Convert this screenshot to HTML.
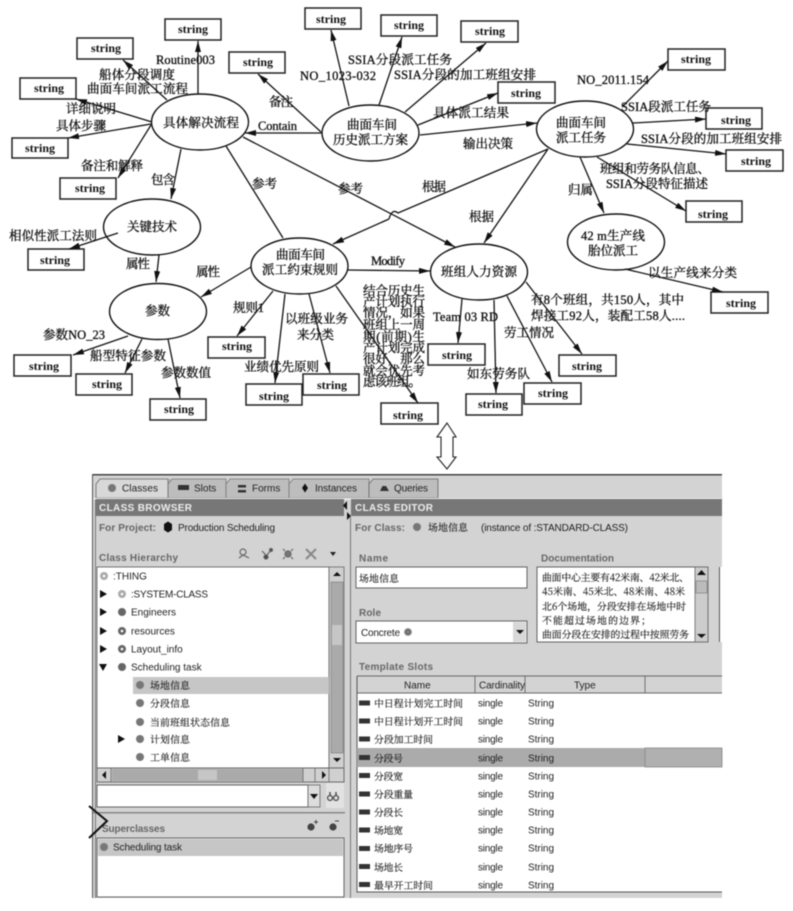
<!DOCTYPE html>
<html lang="zh">
<head>
<meta charset="utf-8">
<title>Diagram</title>
<style>
html,body{margin:0;padding:0;background:#fff;width:793px;height:911px;overflow:hidden}
svg{display:block;filter:blur(.4px)}
.b{fill:#fff;stroke:#222;stroke-width:1.5}
.e{fill:#fff;stroke:#111;stroke-width:1.4}
.l{stroke:#111;stroke-width:1.3;fill:none}
.p{stroke:#111;stroke-width:1.3;fill:none}
.d text{font-family:"Liberation Serif","Noto Serif CJK SC",serif;font-size:12.5px;fill:#111;stroke:#111;stroke-width:.32}
.d text.s{font-weight:700;font-size:12px;stroke:none}
.g text{font-family:"Liberation Sans","Noto Serif CJK SC",sans-serif;font-size:10px;fill:#222}
.g text.h{font-weight:700;fill:#eee;font-size:10px}
.g text.t{font-weight:700;fill:#666;font-size:10px}
.g text.c{font-family:"Noto Serif CJK SC","Liberation Serif",serif;font-size:9.9px;fill:#222;stroke:#222;stroke-width:.15}
</style>
</head>
<body>
<svg width="793" height="911" viewBox="0 0 793 911" xmlns="http://www.w3.org/2000/svg">
<defs>
<marker id="a" markerUnits="userSpaceOnUse" markerWidth="12" markerHeight="7" refX="11" refY="3" orient="auto"><path d="M0 0L11 3L0 6Z" fill="#111"/></marker>
</defs>
<rect width="793" height="911" fill="#fff"/>

<g class="d">
<!-- ellipses -->
<ellipse class="e" cx="200" cy="122" rx="48.5" ry="28"/>
<ellipse class="e" cx="370.5" cy="133" rx="48.5" ry="28"/>
<ellipse class="e" cx="585" cy="129" rx="48.5" ry="28"/>
<ellipse class="e" cx="152" cy="227" rx="48.5" ry="28"/>
<ellipse class="e" cx="158" cy="311.5" rx="48.5" ry="28"/>
<ellipse class="e" cx="299.5" cy="266" rx="48.5" ry="28"/>
<ellipse class="e" cx="479" cy="272" rx="48.5" ry="28"/>
<ellipse class="e" cx="616" cy="242" rx="48.5" ry="28"/>

<!-- boxes -->
<rect class="b" x="165" y="19" width="56" height="21"/><text class="s" x="178" y="33">string</text>
<rect class="b" x="77" y="38" width="56" height="21"/><text class="s" x="91" y="52">string</text>
<rect class="b" x="20" y="78" width="56" height="21"/><text class="s" x="34" y="92">string</text>
<rect class="b" x="12" y="138" width="56" height="20"/><text class="s" x="25" y="152">string</text>
<rect class="b" x="60" y="178" width="56" height="21"/><text class="s" x="75" y="192">string</text>
<rect class="b" x="229" y="52" width="56" height="21"/><text class="s" x="243" y="66">string</text>
<rect class="b" x="305" y="8" width="56" height="21"/><text class="s" x="316" y="23">string</text>
<rect class="b" x="381" y="15" width="56" height="21"/><text class="s" x="394" y="29">string</text>
<rect class="b" x="461" y="21" width="57" height="21"/><text class="s" x="475" y="35">string</text>
<rect class="b" x="498" y="82" width="57" height="21"/><text class="s" x="511" y="97">string</text>
<rect class="b" x="668" y="49" width="57" height="21"/><text class="s" x="681" y="63">string</text>
<rect class="b" x="706" y="108" width="56" height="21"/><text class="s" x="721" y="124">string</text>
<rect class="b" x="726" y="150" width="57" height="21"/><text class="s" x="741" y="165">string</text>
<rect class="b" x="686" y="201" width="56" height="21"/><text class="s" x="698" y="218">string</text>
<rect class="b" x="28" y="249" width="56" height="21"/><text class="s" x="40" y="264">string</text>
<rect class="b" x="14" y="355" width="57" height="21"/><text class="s" x="29" y="370">string</text>
<rect class="b" x="76" y="374" width="56" height="21"/><text class="s" x="92" y="388">string</text>
<rect class="b" x="150" y="399" width="56" height="21"/><text class="s" x="164" y="413">string</text>
<rect class="b" x="208" y="337" width="57" height="21"/><text class="s" x="222" y="350">string</text>
<rect class="b" x="246" y="384" width="56" height="21"/><text class="s" x="259" y="400">string</text>
<rect class="b" x="303" y="374" width="56" height="21"/><text class="s" x="317" y="389">string</text>
<rect class="b" x="381" y="403" width="57" height="21"/><text class="s" x="393" y="419">string</text>
<rect class="b" x="428" y="344" width="57" height="21"/><text class="s" x="442" y="359">string</text>
<rect class="b" x="466" y="394" width="56" height="21"/><text class="s" x="478" y="408">string</text>
<rect class="b" x="524" y="383" width="57" height="21"/><text class="s" x="538" y="397">string</text>
<rect class="b" x="559" y="355" width="57" height="21"/><text class="s" x="572" y="370">string</text>
<rect class="b" x="711" y="292" width="57" height="21"/><text class="s" x="726" y="307">string</text>

<!-- connectors -->
<path class="l" marker-end="url(#a)" d="M198 94L198 41"/>
<path class="l" marker-end="url(#a)" d="M167 100L123 60"/>
<path class="l" marker-end="url(#a)" d="M152 122L76 99"/>
<path class="l" marker-end="url(#a)" d="M151 124L68 138"/>
<path class="l" marker-end="url(#a)" d="M151 125L118 178"/>
<path class="l" marker-end="url(#a)" d="M181 149L171 199"/>
<path class="p" d="M226 146L283 238"/>
<path class="l" marker-end="url(#a)" d="M243 137L455 247"/>
<path class="l" marker-end="url(#a)" d="M322 133L245 133"/>
<path class="l" marker-end="url(#a)" d="M321 132L258 74"/>
<path class="l" marker-end="url(#a)" d="M349 106L331 30"/>
<path class="l" marker-end="url(#a)" d="M379 105L402 37"/>
<path class="l" marker-end="url(#a)" d="M405 112L486 43"/>
<path class="l" marker-end="url(#a)" d="M418 125L498 93"/>
<path class="l" marker-end="url(#a)" d="M420 135L537 123"/>
<path class="l" marker-end="url(#a)" d="M622 107L668 61"/>
<path class="l" marker-end="url(#a)" d="M633 123L706 119"/>
<path class="l" marker-end="url(#a)" d="M627 144L726 154"/>
<path class="l" marker-end="url(#a)" d="M597 157L686 211"/>
<path class="l" marker-end="url(#a)" d="M580 157L604 213"/>
<path class="p" d="M548 149L398 213Q392 208 389 219"/>
<path class="l" marker-end="url(#a)" d="M389 219L333 244"/>
<path class="l" marker-end="url(#a)" d="M548 149L484 243"/>
<path class="l" marker-end="url(#a)" d="M118 233L69 249"/>
<path class="l" marker-end="url(#a)" d="M159 255L156 282"/>
<path class="l" marker-end="url(#a)" d="M128 336L73 355"/>
<path class="l" marker-end="url(#a)" d="M142 339L125 373"/>
<path class="l" marker-end="url(#a)" d="M168 339L180 398"/>
<path class="l" marker-end="url(#a)" d="M251 267L201 297"/>
<path class="l" marker-end="url(#a)" d="M273 291L237 336"/>
<path class="l" marker-end="url(#a)" d="M285 294L275 383"/>
<path class="l" marker-end="url(#a)" d="M309 294L330 373"/>
<path class="l" marker-end="url(#a)" d="M336 286L418 403"/>
<path class="l" marker-end="url(#a)" d="M348 270L430 271"/>
<path class="l" marker-end="url(#a)" d="M462 299L458 343"/>
<path class="l" marker-end="url(#a)" d="M494 300L496 393"/>
<path class="l" marker-end="url(#a)" d="M507 296L552 382"/>
<path class="l" marker-end="url(#a)" d="M526 282L582 354"/>
<path class="l" marker-end="url(#a)" d="M625 269L723 292"/>

<!-- ellipse labels -->
<text x="163" y="127" textLength="76">具体解决流程</text>
<text x="347" y="129" textLength="50">曲面车间</text>
<text x="333" y="144" textLength="75">历史派工方案</text>
<text x="556" y="127" textLength="50">曲面车间</text>
<text x="556" y="142" textLength="50">派工任务</text>
<text x="127" y="231" textLength="50">关键技术</text>
<text x="145" y="315" textLength="25">参数</text>
<text x="276" y="259" textLength="49">曲面车间</text>
<text x="262" y="274" textLength="76">派工约束规则</text>
<text x="441" y="276" textLength="76">班组人力资源</text>
<text x="581" y="240" textLength="64">42 m生产线</text>
<text x="588" y="255" textLength="50">胎位派工</text>

<!-- connector labels -->
<text x="156" y="64" textLength="59">Routine003</text>
<text x="99" y="79" textLength="76">船体分段调度</text>
<text x="87" y="93" textLength="101">曲面车间派工流程</text>
<text x="66" y="113" textLength="50">详细说明</text>
<text x="56" y="130" textLength="50">具体步骤</text>
<text x="81" y="170" textLength="62">备注和解释</text>
<text x="151" y="184" textLength="24">包含</text>
<text x="252" y="188" textLength="25">参考</text>
<text x="338" y="193" textLength="25">参考</text>
<text x="269" y="106" textLength="24">备注</text>
<text x="258" y="130" textLength="39">Contain</text>
<text x="300" y="80" textLength="76">NO_1023-032</text>
<text x="348" y="64" textLength="104">SSIA分段派工任务</text>
<text x="394" y="79" textLength="142">SSIA分段的加工班组安排</text>
<text x="433" y="117" textLength="76">具体派工结果</text>
<text x="463" y="148" textLength="50">输出决策</text>
<text x="577" y="84" textLength="72">NO_2011.154</text>
<text x="621" y="111" textLength="90">SSIA段派工任务</text>
<text x="641" y="143" textLength="141">SSIA分段的加工班组安排</text>
<text x="600" y="173" textLength="110">班组和劳务队信息、</text>
<text x="606" y="188" textLength="102">SSIA分段特征描述</text>
<text x="568" y="194" textLength="25">归属</text>
<text x="422" y="191" textLength="24">根据</text>
<text x="469" y="221" textLength="25">根据</text>
<text x="9" y="240" textLength="88">相似性派工法则</text>
<text x="126" y="268" textLength="24">属性</text>
<text x="196" y="276" textLength="24">属性</text>
<text x="43" y="339" textLength="62">参数NO_23</text>
<text x="90" y="360" textLength="76">船型特征参数</text>
<text x="161" y="377" textLength="50">参数数值</text>
<text x="233" y="312" textLength="31">规则1</text>
<text x="285" y="323" textLength="63">以班级业务</text>
<text x="297" y="339" textLength="37">来分类</text>
<text x="244" y="371" textLength="75">业绩优先原则</text>
<text x="371" y="265" textLength="34">Modify</text>
<text x="363" y="295" textLength="62">结合历史生</text>
<text x="363" y="306" textLength="62">产计划执行</text>
<text x="363" y="317" textLength="62">情况，如果</text>
<text x="363" y="329" textLength="62">班组上一周</text>
<text x="363" y="341" textLength="62">期(前期)生</text>
<text x="363" y="352" textLength="62">产计划完成</text>
<text x="363" y="363" textLength="62">很好，那么</text>
<text x="363" y="375" textLength="62">就会优先考</text>
<text x="363" y="386" textLength="58">虑该班组。</text>
<text x="433" y="321" textLength="65">Team 03 RD</text>
<text x="467" y="378" textLength="63">如东劳务队</text>
<text x="504" y="337" textLength="50">劳工情况</text>
<text x="531" y="304" textLength="153">有8个班组，共150人，其中</text>
<text x="531" y="320" textLength="154">焊接工92人，装配工58人....</text>
<text x="648" y="277" textLength="89">以生产线来分类</text>
</g>

<!-- double arrow -->
<path d="M447 423L456 437H453V457H456L447 469L437 457H441V437H437Z" fill="#fff" stroke="#222" stroke-width="1.1"/>

<!-- GUI -->
<g class="g">
<rect x="92" y="474" width="630" height="424" fill="#d3d3d3"/>
<rect x="92" y="474" width="630" height="1.5" fill="#444"/>
<rect x="92" y="474" width="1" height="424" fill="#555"/>
<rect x="95" y="498" width="1" height="400" fill="#777"/>

<!-- tabs -->
<path d="M167 498V479H172L168 484V498Z" fill="#bbb"/>
<path d="M168 498V484L172 479H226V498Z" fill="#bdbdbd" stroke="#777" stroke-width=".8"/>
<path d="M226 498V484L230 479H289V498Z" fill="#bdbdbd" stroke="#777" stroke-width=".8"/>
<path d="M289 498V484L293 479H369V498Z" fill="#bdbdbd" stroke="#777" stroke-width=".8"/>
<path d="M369 498V484L373 479H438V498Z" fill="#bdbdbd" stroke="#666" stroke-width=".8"/>
<path d="M96 498V484L100 479H168V498Z" fill="#d8d8d8" stroke="#666" stroke-width=".8"/>
<circle cx="112" cy="488" r="4" fill="#777"/><text x="122" y="491.5" textLength="36">Classes</text>
<rect x="178" y="485" width="11" height="5" fill="#333"/><text x="194" y="491.5">Slots</text>
<rect x="238" y="485" width="8" height="2.5" fill="#333"/><rect x="238" y="490" width="8" height="2.5" fill="#333"/><text x="252" y="491.5">Forms</text>
<path d="M305 483.5L308 488L305 492.5L302 488Z" fill="#111"/><text x="315" y="491.5" textLength="42">Instances</text>
<path d="M380 491L382.5 486H386L389 491Z" fill="#333"/><text x="394" y="491.5" textLength="34">Queries</text>

<!-- browser header -->
<rect x="93" y="498" width="630" height="1.5" fill="#eee"/>
<rect x="96" y="499" width="248" height="17" fill="#777"/>
<rect x="351" y="499" width="371" height="17" fill="#777"/>
<text class="h" x="99" y="511" textLength="93">CLASS BROWSER</text>
<text class="h" x="355" y="511" textLength="78">CLASS EDITOR</text>
<path d="M347 501V510L343 505.5Z M347 512V520L351 516Z" fill="#111"/>
<rect x="350" y="516" width="1" height="382" fill="#777"/>

<text class="t" x="99" y="531" textLength="57">For Project:</text>
<path d="M168 521.5L172 524V530L168 532.5L164 530V524Z" fill="#111"/>
<text x="178" y="531" textLength="97">Production Scheduling</text>
<text class="t" x="99" y="561" textLength="79">Class Hierarchy</text>

<!-- toolbar icons -->
<g fill="none" stroke="#666" stroke-width="1.2">
<circle cx="243" cy="552" r="3"/><path d="M239 558L243 555L249 558"/>
<path d="M262 551L266 555M271 550L267 555"/><circle cx="266" cy="557" r="2" fill="#444"/><circle cx="271" cy="550" r="1.5" fill="#444"/>
<circle cx="288" cy="554" r="3" fill="#777"/><path d="M283 549L285 551M293 549L291 551M283 559L285 557M293 559L291 557"/>
<path d="M306 549L316 559M316 549L306 559" stroke-width="2" stroke="#888"/>
</g>
<path d="M330 552H336L333 556Z" fill="#222"/>

<!-- class list -->
<rect x="97" y="567" width="232" height="201" fill="#fff" stroke="#555" stroke-width=".8"/>
<rect x="329" y="567" width="15" height="201" fill="#d0d0d0" stroke="#666" stroke-width=".8"/>
<rect x="331" y="582" width="12" height="171" fill="#aaa" stroke="#777" stroke-width=".6"/>
<rect x="332" y="625" width="10" height="20" fill="#c6c6c6"/>
<path d="M333 576H341L337 572Z" fill="#111"/>
<path d="M333 758H341L337 762Z" fill="#111"/>

<rect x="133" y="677" width="196" height="17" fill="#c6c6c6"/>

<circle cx="104" cy="576" r="4" fill="#aaa"/><circle cx="104" cy="576" r="1.3" fill="#fff"/><text x="113" y="579.5">:THING</text>
<path d="M100 590L107 594L100 598Z" fill="#111"/><circle cx="122" cy="594" r="4" fill="#aaa"/><circle cx="122" cy="594" r="1.3" fill="#fff"/><text x="131" y="597.5" textLength="77">:SYSTEM-CLASS</text>
<path d="M100 608L107 612L100 616Z" fill="#111"/><circle cx="122" cy="612" r="4" fill="#666"/><text x="131" y="615.5">Engineers</text>
<path d="M100 627L107 631L100 635Z" fill="#111"/><circle cx="122" cy="631" r="4" fill="#666"/><circle cx="122" cy="631" r="1.3" fill="#fff"/><text x="131" y="634.5">resources</text>
<path d="M100 645L107 649L100 653Z" fill="#111"/><circle cx="122" cy="649" r="4" fill="#666"/><circle cx="122" cy="649" r="1.3" fill="#fff"/><text x="131" y="652.5">Layout_info</text>
<path d="M99 664H107L103 671Z" fill="#111"/><circle cx="122" cy="667" r="4" fill="#666"/><text x="131" y="670.5">Scheduling task</text>
<circle cx="140" cy="685" r="4" fill="#777"/><text class="c" x="150" y="689" textLength="40">场地信息</text>
<circle cx="140" cy="703" r="4" fill="#777"/><text class="c" x="150" y="707" textLength="40">分段信息</text>
<circle cx="140" cy="722" r="4" fill="#777"/><text class="c" x="150" y="726" textLength="80">当前班组状态信息</text>
<path d="M118 735L125 739L118 743Z" fill="#111"/><circle cx="140" cy="739" r="4" fill="#777"/><text class="c" x="150" y="743" textLength="40">计划信息</text>
<circle cx="140" cy="757" r="4" fill="#777"/><text class="c" x="150" y="761" textLength="40">工单信息</text>

<!-- h scrollbar -->
<rect x="97" y="768" width="247" height="14" fill="#d0d0d0" stroke="#555" stroke-width=".8"/>
<rect x="112" y="769" width="191" height="12" fill="#aaa"/>
<rect x="198" y="770" width="19" height="10" fill="#c6c6c6"/>
<path d="M106 771V779L102 775Z M322 771V779L326 775Z" fill="#111"/>
<path d="M111 768V782M303 768V782M315 768V782M329 768V782" stroke="#666" stroke-width=".8"/>

<!-- search -->
<rect x="326" y="783" width="18" height="25" fill="#e2e2e2"/>
<rect x="97" y="785" width="211" height="22" fill="#fff" stroke="#555" stroke-width=".9"/>
<rect x="308" y="785" width="12" height="22" fill="#ddd" stroke="#666" stroke-width=".8"/>
<path d="M310 794H318L314 799Z" fill="#111"/>
<circle cx="330" cy="798" r="2.4" fill="none" stroke="#555" stroke-width="1.4"/><circle cx="336" cy="798" r="2.4" fill="none" stroke="#555" stroke-width="1.4"/><path d="M330 792V796M336 792V796" stroke="#555" stroke-width="1.6"/>

<!-- superclasses -->
<rect x="93" y="812" width="252" height="1.5" fill="#888"/>
<text class="t" x="102" y="832" textLength="63">Superclasses</text>
<circle cx="311" cy="827" r="3.6" fill="#444"/><path d="M316 820V824M314 822H318" stroke="#444"/>
<circle cx="333" cy="827" r="3.6" fill="#444"/><path d="M335 821H339" stroke="#444"/>
<rect x="97" y="838" width="247" height="59" fill="#fff" stroke="#555" stroke-width=".9"/>
<rect x="98" y="839" width="245" height="17" fill="#c6c6c6"/>
<circle cx="104" cy="847" r="4" fill="#777"/><text x="113" y="850.5" textLength="69">Scheduling task</text>

<!-- editor -->
<text class="t" x="355" y="531" textLength="50">For Class:</text>
<circle cx="417" cy="527" r="4" fill="#777"/>
<text class="c" x="428" y="531" textLength="40">场地信息</text>
<text x="481" y="531" textLength="147">(instance of :STANDARD-CLASS)</text>
<text class="t" x="359" y="561.5" textLength="29">Name</text>
<text class="t" x="541" y="561.5" textLength="73">Documentation</text>
<rect x="356" y="567" width="171" height="21" fill="#fff" stroke="#555" stroke-width=".9"/>
<text class="c" x="359" y="582" textLength="40">场地信息</text>
<text class="t" x="359" y="616" textLength="22">Role</text>
<rect x="356" y="621" width="171" height="22" fill="#fff" stroke="#555" stroke-width=".9"/>
<rect x="513" y="622" width="13" height="20" fill="#d8d8d8"/>
<text x="361" y="636" textLength="39">Concrete</text>
<circle cx="408" cy="632" r="3.8" fill="#777"/>
<path d="M516 630H524L520 634Z" fill="#111"/>

<!-- documentation -->
<rect x="537" y="567" width="171" height="75" fill="#fff" stroke="#555" stroke-width=".9"/>
<rect x="695" y="567" width="13" height="75" fill="#ccc" stroke="#666" stroke-width=".8"/>
<path d="M697 575H706L701.5 570Z M697 634H706L701.5 638Z" fill="#111"/>
<rect x="696" y="581" width="11" height="12" fill="#bbb" stroke="#777" stroke-width=".6"/>
<text class="c" x="542" y="581" textLength="147">曲面中心主要有42米南、42米北、</text>
<text class="c" x="542" y="595" textLength="143">45米南、45米北、48米南、48米</text>
<text class="c" x="542" y="610" textLength="144">北6个场地，分段安排在场地中时</text>
<text class="c" x="542" y="624" textLength="109">不能超过场地的边界；</text>
<text class="c" x="542" y="638" textLength="147">曲面分段在安排的过程中按照劳务</text>
<rect x="719" y="567" width="3" height="75" fill="#fff"/>
<rect x="719" y="567" width="1" height="75" fill="#555"/>

<text class="t" x="359" y="670" textLength="74">Template Slots</text>

<!-- table -->
<rect x="357" y="676" width="365" height="216" fill="#fff"/>
<rect x="357" y="676" width="365" height="17" fill="#d3d3d3"/>
<path d="M357 676H722M357 693H722M475 676V693M525 676V693M645 676V693" stroke="#666" stroke-width=".9" fill="none"/>
<path d="M357 676V892H722" stroke="#555" stroke-width="1" fill="none"/>
<text x="404" y="688.5">Name</text>
<text x="479" y="688.5" textLength="46">Cardinality</text>
<text x="574" y="688.5">Type</text>
<rect x="357" y="748" width="365" height="19" fill="#ababab"/>
<rect x="645" y="748" width="77" height="19" fill="#b0b0b0" stroke="#888" stroke-width=".8"/>

<g fill="#333">
<rect x="359" y="700.5" width="11" height="5"/>
<rect x="359" y="718.5" width="11" height="5"/>
<rect x="359" y="736.5" width="11" height="5"/>
<rect x="359" y="755" width="11" height="5"/>
<rect x="359" y="773" width="11" height="5"/>
<rect x="359" y="791.5" width="11" height="5"/>
<rect x="359" y="809.5" width="11" height="5"/>
<rect x="359" y="827.5" width="11" height="5"/>
<rect x="359" y="846" width="11" height="5"/>
<rect x="359" y="864" width="11" height="5"/>
<rect x="359" y="882" width="11" height="5"/>
</g>
<text class="c" x="374" y="707" textLength="89">中日程计划完工时间</text><text x="478" y="706.5" textLength="25">single</text><text x="528" y="706.5" textLength="26">String</text>
<text class="c" x="374" y="725" textLength="89">中日程计划开工时间</text><text x="478" y="724.5" textLength="25">single</text><text x="528" y="724.5" textLength="26">String</text>
<text class="c" x="374" y="743" textLength="59">分段加工时间</text><text x="478" y="742.5" textLength="25">single</text><text x="528" y="742.5" textLength="26">String</text>
<text class="c" x="374" y="762" textLength="29">分段号</text><text x="478" y="761.5" textLength="25">single</text><text x="528" y="761.5" textLength="26">String</text>
<text class="c" x="374" y="780" textLength="29">分段宽</text><text x="478" y="779.5" textLength="25">single</text><text x="528" y="779.5" textLength="26">String</text>
<text class="c" x="374" y="798" textLength="39">分段重量</text><text x="478" y="797.5" textLength="25">single</text><text x="528" y="797.5" textLength="26">String</text>
<text class="c" x="374" y="816" textLength="29">分段长</text><text x="478" y="815.5" textLength="25">single</text><text x="528" y="815.5" textLength="26">String</text>
<text class="c" x="374" y="834" textLength="29">场地宽</text><text x="478" y="833.5" textLength="25">single</text><text x="528" y="833.5" textLength="26">String</text>
<text class="c" x="374" y="852" textLength="39">场地序号</text><text x="478" y="851.5" textLength="25">single</text><text x="528" y="851.5" textLength="26">String</text>
<text class="c" x="374" y="871" textLength="29">场地长</text><text x="478" y="870.5" textLength="25">single</text><text x="528" y="870.5" textLength="26">String</text>
<text class="c" x="374" y="889" textLength="59">最早开工时间</text><text x="478" y="888.5" textLength="25">single</text><text x="528" y="888.5" textLength="26">String</text>
</g>

<!-- chevron -->
<path d="M89 806L107 821L89 838" fill="none" stroke="#111" stroke-width="2"/>
</svg>
</body>
</html>
